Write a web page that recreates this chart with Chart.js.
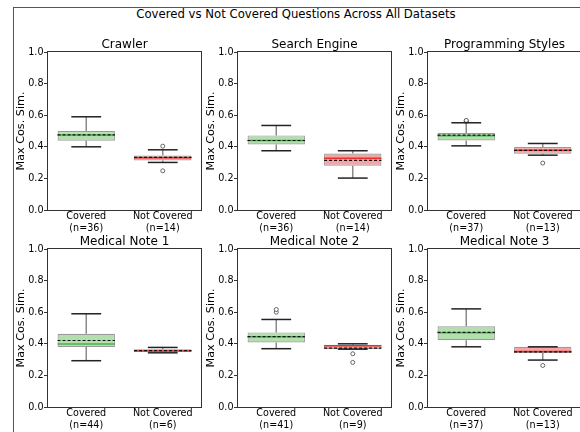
<!DOCTYPE html>
<html>
<head>
<meta charset="utf-8">
<script src="https://cdn.jsdelivr.net/npm/chart.js@4.4.0/dist/chart.umd.min.js"></script>
<style>
  body { margin: 0; width: 580px; height: 432px; overflow: hidden; background: #fff; position: relative; font-family: "DejaVu Sans", sans-serif; }
  #frame { position: absolute; left: 13px; top: 7px; width: 600px; height: 500px; border-top: 1px solid #555; border-left: 1px solid #555; }
  #suptitle { position: absolute; left: 0; top: 7px; width: 592px; text-align: center; font-size: 11.7px; line-height: 14px; color: #000; }
  canvas { position: absolute; }
</style>
</head>
<body>
<div id="frame"></div>
<div id="suptitle">Covered vs Not Covered Questions Across All Datasets</div>
<div id="panels"></div>
<script>
// values
const panelTitles = ["Crawler", "Search Engine", "Programming Styles", "Medical Note 1", "Medical Note 2", "Medical Note 3"];
const groups = ["Covered", "Not Covered"];
const counts = [[36, 14], [36, 14], [37, 13], [44, 6], [41, 9], [37, 13]];

const whiskerLow  = [[0.400, 0.301], [0.375, 0.202], [0.406, 0.347], [0.293, 0.343], [0.369, 0.366], [0.381, 0.297]];
const q1          = [[0.438, 0.314], [0.415, 0.280], [0.440, 0.356], [0.379, 0.350], [0.408, 0.366], [0.423, 0.341]];
const medians     = [[0.474, 0.330], [0.440, 0.327], [0.470, 0.378], [0.398, 0.355], [0.445, 0.388], [0.470, 0.352]];
const q3          = [[0.500, 0.345], [0.472, 0.358], [0.488, 0.398], [0.463, 0.366], [0.472, 0.394], [0.511, 0.381]];
const whiskerHigh = [[0.590, 0.381], [0.535, 0.375], [0.552, 0.421], [0.590, 0.377], [0.554, 0.400], [0.621, 0.381]];
const means       = [[0.476, 0.333], [0.440, 0.314], [0.474, 0.377], [0.421, 0.357], [0.446, 0.372], [0.472, 0.349]];
const outliers = [
  [[], [0.404, 0.248]],
  [[], []],
  [[0.560, 0.564, 0.567], [0.297]],
  [[], []],
  [[0.600, 0.617], [0.337, 0.282]],
  [[], [0.263]]
];

const boxFill = ["#b3deae", "#f4a4a4"];
const medianColor = ["#4caf50", "#e8302e"];

const plotLeft = [48, 238, 428];
const plotTop = [52, 249];
const plotW = 153, plotH = 158;
const yAxisW = 34, xAxisH = 28, titleH = 15;

const boxExtras = {
  id: "boxExtras",
  afterDatasetsDraw(chart) {
    const p = chart.options.plugins.boxExtras;
    const ctx = chart.ctx;
    const xs = chart.scales.x, ys = chart.scales.y;
    const bars = chart.getDatasetMeta(0).data;
    const catW = xs.getPixelForValue(1) - xs.getPixelForValue(0);
    const line = (x1, y1, x2, y2) => { ctx.beginPath(); ctx.moveTo(x1, y1); ctx.lineTo(x2, y2); ctx.stroke(); };
    ctx.save();
    bars.forEach((bar, i) => {
      const cx = bar.x, half = bar.width / 2, capHalf = catW * 0.195;
      // whiskers
      ctx.strokeStyle = "#8a8a8a";
      ctx.lineWidth = 1.5;
      line(cx, ys.getPixelForValue(p.q1[i]), cx, ys.getPixelForValue(p.lo[i]));
      line(cx, ys.getPixelForValue(p.q3[i]), cx, ys.getPixelForValue(p.hi[i]));
      // caps
      ctx.strokeStyle = "#222";
      const yl = ys.getPixelForValue(p.lo[i]), yh = ys.getPixelForValue(p.hi[i]);
      line(cx - capHalf, yl, cx + capHalf, yl);
      line(cx - capHalf, yh, cx + capHalf, yh);
      // median
      ctx.strokeStyle = medianColor[i];
      ctx.lineWidth = 1.5;
      const ym = ys.getPixelForValue(p.med[i]);
      line(cx - half, ym, cx + half, ym);
      // mean
      ctx.strokeStyle = "#111";
      ctx.lineWidth = 1.2;
      ctx.setLineDash([3, 2]);
      const ya = ys.getPixelForValue(p.mean[i]);
      line(cx - half, ya, cx + half, ya);
      ctx.setLineDash([]);
    });
    // frame round the axes
    const a = chart.chartArea;
    ctx.strokeStyle = "#333";
    ctx.lineWidth = 1;
    ctx.strokeRect(Math.round(a.left) - 0.5, Math.round(a.top) - 0.5, Math.round(a.right - a.left) + 1, Math.round(a.bottom - a.top) + 1);
    ctx.restore();
  }
};

const holder = document.getElementById("panels");

panelTitles.forEach((title, k) => {
  const col = k % 3, row = Math.floor(k / 3);
  const canvas = document.createElement("canvas");
  // symmetric canvas so the title centres over the plot area
  const w = yAxisW + plotW + yAxisW, h = titleH + plotH + xAxisH;
  canvas.width = w;
  canvas.height = h;
  canvas.style.left = (plotLeft[col] - yAxisW) + "px";
  canvas.style.top = (plotTop[row] - titleH) + "px";
  canvas.style.width = w + "px";
  canvas.style.height = h + "px";
  holder.appendChild(canvas);

  const labels = groups.map((g, i) => [g, "(n=" + counts[k][i] + ")"]);
  const outlierPoints = [];
  outliers[k].forEach((list, i) => list.forEach(v => outlierPoints.push({ x: labels[i], y: v })));

  new Chart(canvas, {
    type: "bar",
    data: {
      labels: labels,
      datasets: [
        {
          data: q1[k].map((v, i) => [v, q3[k][i]]),
          backgroundColor: boxFill,
          borderColor: "#9a9a9a",
          borderWidth: 1.2,
          borderSkipped: false,
          barPercentage: 0.75,
          categoryPercentage: 1.0
        },
        {
          type: "line",
          data: outlierPoints,
          showLine: false,
          pointRadius: 2,
          pointBackgroundColor: "#fff",
          pointBorderColor: "#444",
          pointBorderWidth: 0.8
        }
      ]
    },
    options: {
      responsive: false,
      animation: false,
      layout: { padding: 0 },
      plugins: {
        legend: { display: false },
        tooltip: { enabled: false },
        title: {
          display: true,
          text: title,
          color: "#000",
          font: { family: "DejaVu Sans", size: 12, weight: "normal", lineHeight: 1.25 },
          padding: 0
        },
        boxExtras: {
          lo: whiskerLow[k], q1: q1[k], med: medians[k], q3: q3[k], hi: whiskerHigh[k], mean: means[k]
        }
      },
      scales: {
        x: {
          offset: true,
          grid: { display: false, drawTicks: false },
          border: { display: false },
          ticks: { color: "#000", padding: 1, font: { family: "DejaVu Sans", size: 9.6 } },
          afterFit: s => { s.height = xAxisH; }
        },
        y: {
          min: 0,
          max: 1,
          grid: { drawOnChartArea: false, drawTicks: true, tickLength: 4, color: "#333" },
          border: { display: false },
          ticks: {
            stepSize: 0.2,
            padding: 0.5,
            color: "#000",
            font: { family: "DejaVu Sans", size: 9.6 },
            callback: v => v.toFixed(1)
          },
          title: {
            display: true,
            text: "Max Cos. Sim.",
            color: "#000",
            padding: 0,
            font: { family: "DejaVu Sans", size: 11.2 }
          },
          afterFit: s => { s.width = yAxisW; }
        },
        // empty right-hand spacer so the panel title centres over the plot
        yRight: {
          position: "right",
          min: 0,
          max: 1,
          grid: { display: false },
          border: { display: false },
          ticks: { display: false },
          afterFit: s => { s.width = yAxisW; }
        }
      }
    },
    plugins: [boxExtras]
  });
});
</script>
</body>
</html>
